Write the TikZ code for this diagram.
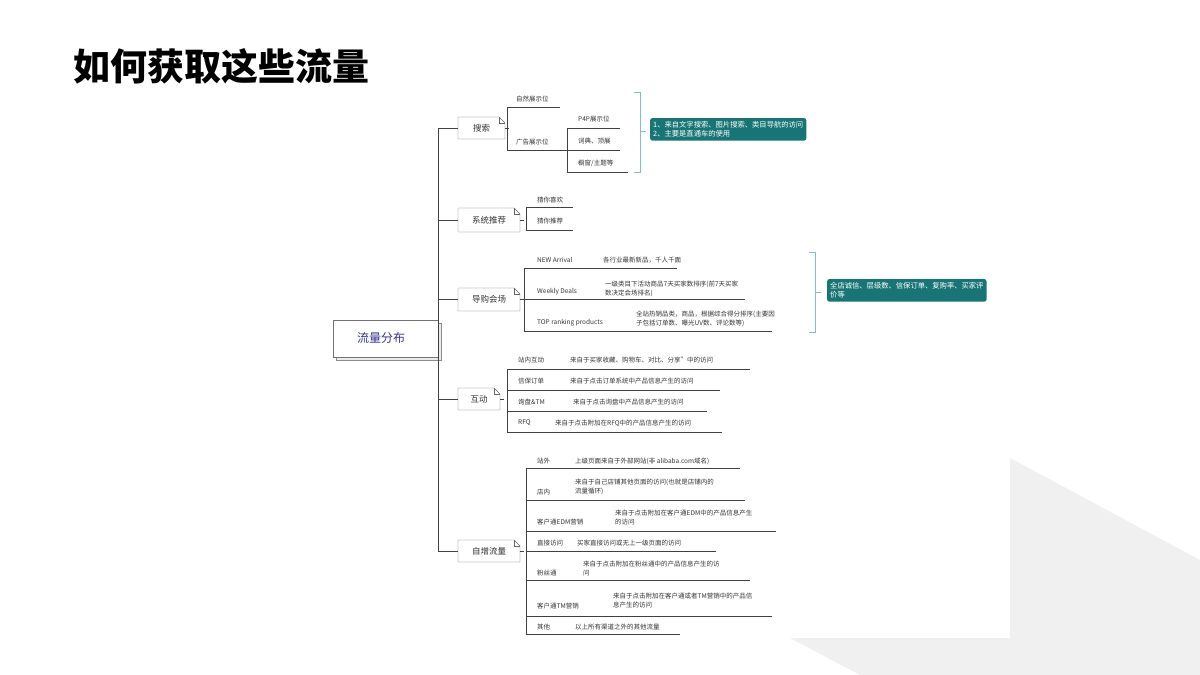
\documentclass[tikz,border=0pt]{standalone}
\usepackage{fontspec}
\setmainfont{Noto Sans CJK SC}
\begin{document}
\begin{tikzpicture}[x=1pt,y=-1pt,
  ln/.style={draw=black!75,line width=0.6pt},
  lab/.style={anchor=west,inner sep=0pt,font=\fontsize{6.5}{9}\selectfont,text=black!80,align=left},
  brk/.style={draw=teal!50,line width=0.8pt},
  note/.style={fill=teal!80!black!90,rounded corners=2pt,text=white,anchor=north west,inner sep=3pt,font=\fontsize{7.3}{9.5}\selectfont,align=left},
  lvt/.style={font=\fontsize{8.5}{10}\selectfont,text=black!80}]
\useasboundingbox (0,0) rectangle (1200,675);
\fill[black!6] (1010,458) -- (1200,560) -- (1200,675) -- (860,675) -- (790,638) -- (1010,638) -- cycle;
\node[anchor=west,font=\bfseries\fontsize{37}{42}\selectfont] (title) at (70,66) {如何获取这些流量};
% root
\draw[black!45,fill=black!8] (336,323) rectangle (441,360);
\draw[black!55,fill=white] (333,320) rectangle (438,357);
\node[font=\fontsize{12}{14}\selectfont,text=blue!45!black!80] (root) at (381,338) {流量分布};
% spine
\draw[ln] (438,128) -- (438,551);
% level1 boxes
\foreach \xa/\ya/\xb/\yb/\t/\n in {458/117/505/139/搜索/ss,458/208/520/232/系统推荐/xt,458/288/520/311/导购会场/dg,458/388/500/410/互动/hd,458/540/520/562/自增流量/zz}{
  \draw[ln] (438,{(\ya+\yb)/2}) -- (\xa,{(\ya+\yb)/2});
  \draw[black!60,fill=white] (\xa,\ya) -- ({\xb-6},\ya) -- (\xb,{\ya+6}) -- (\xb,\yb) -- (\xa,\yb) -- cycle;
  \draw[black!60] ({\xb-6},\ya) -- ({\xb-6},{\ya+6}) -- (\xb,{\ya+6});
  \node[lvt] (\n) at ({(\xa+\xb)/2},{(\ya+\yb)/2}) {\t};
  \draw[ln] (\xb,{(\ya+\yb)/2}) -- ({\xb+4},{(\ya+\yb)/2});
}
% search
\draw[ln] (507,107) -- (507,150);
\draw[ln] (507,107) -- (560,107); \draw[ln] (507,150) -- (567,150);
\node[lab] (s1) at (516,99) {自然展示位};
\node[lab] (s2) at (516,142) {广告展示位};
\draw[ln] (567,128) -- (567,172);
\draw[ln] (567,128) -- (620,128); \draw[ln] (567,150) -- (620,150); \draw[ln] (567,172) -- (628,172);
\node[lab] (s3) at (578,119) {P4P展示位};
\node[lab] (s4) at (578,141) {词典、顶展};
\node[lab] (s5) at (578,163) {橱窗/主题等};
\draw[brk] (634,92) -- (640,92) -- (640,172) -- (634,172); \draw[brk] (640,131) -- (646,131);
\node[note] (n1) at (650,118) {1、来自文字搜索、图片搜索、类目导航的访问\\2、主要是直通车的使用};
% system
\draw[ln] (526,207) -- (526,230);
\draw[ln] (526,207) -- (573,207); \draw[ln] (526,230) -- (573,230);
\node[lab] (x1) at (537,200) {猜你喜欢};
\node[lab] (x2) at (537,221) {猜你推荐};
% daogou
\draw[ln] (524,268) -- (524,331);
\draw[ln] (524,268) -- (677,268); \draw[ln] (524,299) -- (745,299); \draw[ln] (524,331) -- (772,331);
\node[lab] (d1) at (537,260) {NEW Arrival};
\node[lab] (d1b) at (603,260) {各行业最新新品，千人千面};
\node[lab] (d2) at (537,292) {Weekly Deals};
\node[lab] (d2b) at (605,289) {一级类目下活动商品7天买家数排序(前7天买家\\数决定会场排名)};
\node[lab] (d3) at (537,323) {TOP ranking products};
\node[lab] (d3b) at (636,319) {全站热销品类，商品，根据综合得分排序(主要因\\子包括订单数、曝光UV数、评论数等)};
\draw[brk] (809,252) -- (815,252) -- (815,332) -- (809,332); \draw[brk] (815,292) -- (821,292);
\node[note] (n2) at (827,279) {全店诚信、层级数、信保订单、复购率、买家评\\价等};
% hudong
\draw[ln] (507,369) -- (507,432);
\draw[ln] (507,369) -- (750,369); \draw[ln] (507,390) -- (720,390); \draw[ln] (507,411) -- (707,411); \draw[ln] (507,432) -- (722,432);
\node[lab] (h1) at (518,360) {站内互动}; \node[lab] at (570,360) {来自于买家收藏、购物车、对比、分享"中的访问};
\node[lab] (h2) at (518,381) {信保订单}; \node[lab] at (570,381) {来自于点击订单系统中产品信息产生的访问};
\node[lab] (h3) at (518,402) {询盘\&TM}; \node[lab] at (573,402) {来自于点击询盘中产品信息产生的访问};
\node[lab] (h4) at (518,423) {RFQ}; \node[lab] at (555,423) {来自于点击附加在RFQ中的产品信息产生的访问};
% ziceng
\draw[ln] (526,468) -- (526,634);
\foreach \y/\e in {468/740,500/745,531/776,551/716,580/750,616/772,634/680}{\draw[ln] (526,\y) -- (\e,\y);}
\node[lab] (z1) at (537,461) {站外}; \node[lab] at (575,461) {上级页面来自于外部网站(非 alibaba.com域名)};
\node[lab] (z2) at (537,492) {店内}; \node[lab] at (575,487) {来自于自己店铺其他页面的访问(也就是店铺内的\\流量循环)};
\node[lab] (z3) at (537,522) {客户通EDM营销}; \node[lab] at (615,517) {来自于点击附加在客户通EDM中的产品信息产生\\的访问};
\node[lab] (z4) at (537,543) {直接访问}; \node[lab] at (577,543) {买家直接访问或无上一级页面的访问};
\node[lab] (z5) at (537,573) {粉丝通}; \node[lab] at (583,568) {来自于点击附加在粉丝通中的产品信息产生的访\\问};
\node[lab] (z6) at (537,606) {客户通TM营销}; \node[lab] at (613,601) {来自于点击附加在客户通或者TM营销中的产品信\\息产生的访问};
\node[lab] (z7) at (537,627) {其他}; \node[lab] at (575,627) {以上所有渠道之外的其他流量};
\end{tikzpicture}
\end{document}
